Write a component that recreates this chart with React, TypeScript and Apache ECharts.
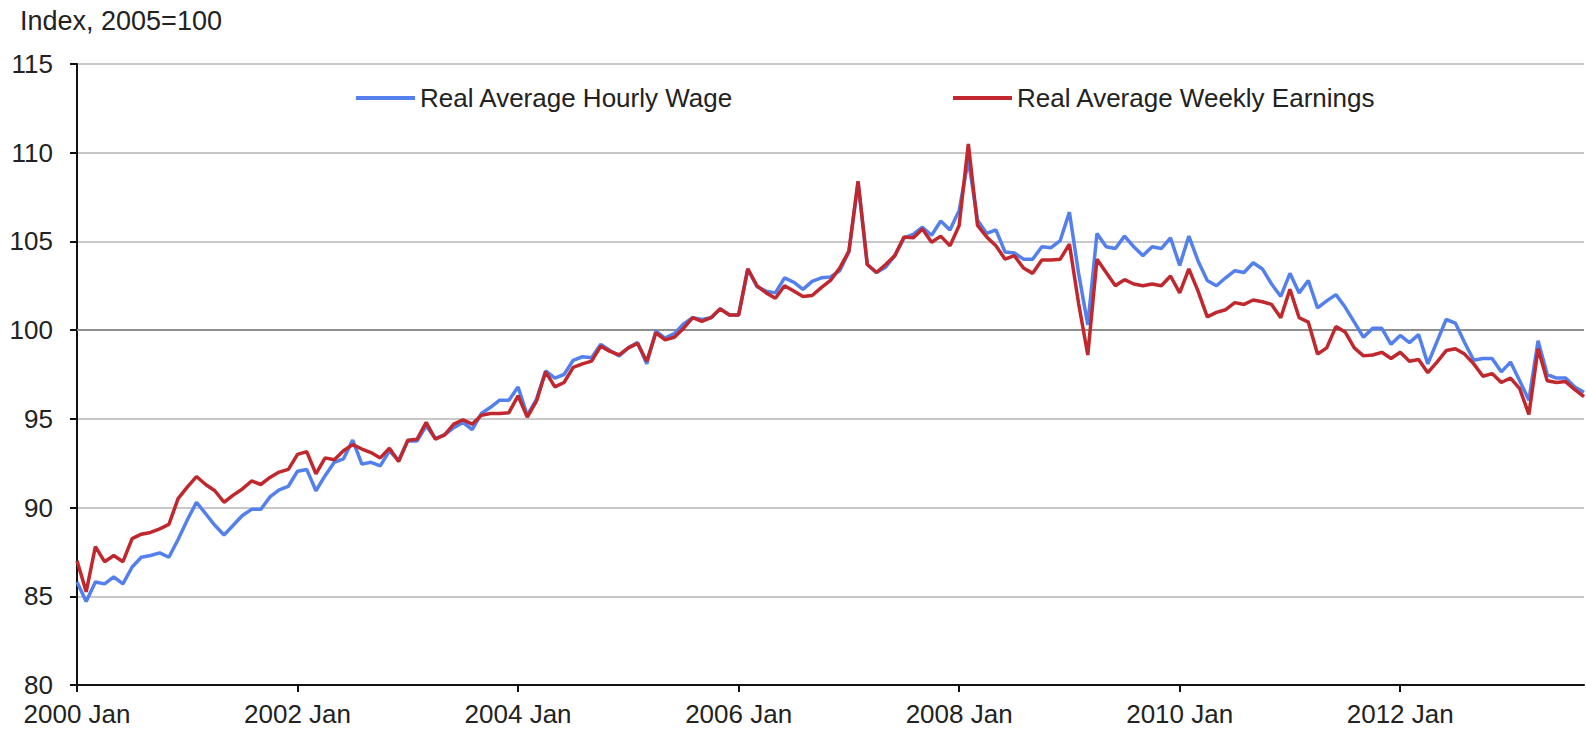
import React, { useEffect, useRef } from "react";
import * as echarts from "echarts";

const startYear = 2000;
const monthNames = ["Jan", "Feb", "Mar", "Apr", "May", "Jun", "Jul", "Aug", "Sep", "Oct", "Nov", "Dec"];

const hourlyWage: number[] = [
  85.8, 84.7, 85.8, 85.7, 86.1, 85.7, 86.65, 87.2, 87.3, 87.45, 87.2, 88.2,
  89.3, 90.3, 89.65, 89.0, 88.45, 89.0, 89.55, 89.9, 89.9, 90.6, 91.0, 91.2,
  92.05, 92.15, 90.95, 91.8, 92.55, 92.75, 93.8, 92.45, 92.55, 92.35, 93.2, 92.65,
  93.75, 93.75, 94.6, 93.9, 94.1, 94.5, 94.8, 94.4, 95.3, 95.65, 96.05, 96.05,
  96.8, 95.2, 96.1, 97.7, 97.3, 97.5, 98.3, 98.5, 98.45, 99.2, 98.85, 98.55,
  99.0, 99.3, 98.1, 99.95, 99.55, 99.8, 100.35, 100.7, 100.6, 100.7, 101.2, 100.85,
  100.85, 103.45, 102.45, 102.2, 102.1, 102.95, 102.7, 102.3, 102.75, 102.95, 103.0, 103.35,
  104.4, 108.35, 103.7, 103.25, 103.55, 104.2, 105.2, 105.4, 105.8, 105.35, 106.15, 105.65,
  106.75, 109.6, 106.2, 105.45, 105.65, 104.4, 104.35, 104.0, 104.0, 104.7, 104.65, 105.05,
  106.65, 103.2, 100.3, 105.45, 104.7, 104.6, 105.3, 104.7, 104.2, 104.7, 104.6, 105.2,
  103.65, 105.3, 103.9, 102.8, 102.5, 102.95, 103.35, 103.25, 103.8, 103.45, 102.6, 101.9,
  103.2, 102.1, 102.8, 101.25, 101.65, 102.0, 101.3, 100.45, 99.6, 100.1, 100.1, 99.2,
  99.7, 99.3, 99.75, 98.1, 99.35, 100.6, 100.4, 99.3, 98.3, 98.4, 98.4, 97.65,
  98.2, 97.15, 96.05, 99.4, 97.5, 97.3, 97.3, 96.8, 96.5,
];

const weeklyEarnings: number[] = [
  87.0, 85.25, 87.8, 86.95, 87.3, 86.95, 88.25, 88.5, 88.6, 88.8, 89.05, 90.5,
  91.15, 91.75, 91.3, 90.95, 90.3, 90.7, 91.05, 91.5, 91.3, 91.7, 92.0, 92.15,
  93.0, 93.15, 91.9, 92.8, 92.7, 93.2, 93.55, 93.3, 93.1, 92.8, 93.35, 92.6,
  93.8, 93.85, 94.8, 93.85, 94.1, 94.7, 94.95, 94.7, 95.2, 95.3, 95.3, 95.35,
  96.3, 95.1, 96.0, 97.65, 96.8, 97.05, 97.9, 98.1, 98.25, 99.1, 98.8, 98.6,
  99.0, 99.25, 98.25, 99.85, 99.45, 99.6, 100.1, 100.7, 100.5, 100.7, 101.2, 100.85,
  100.85, 103.45, 102.5, 102.1, 101.8, 102.5, 102.2, 101.9, 101.95, 102.4, 102.8, 103.5,
  104.45, 108.4, 103.7, 103.25, 103.7, 104.2, 105.25, 105.2, 105.7, 104.95, 105.3, 104.75,
  105.9, 110.5, 105.9, 105.25, 104.75, 104.0, 104.2, 103.5, 103.2, 103.95, 103.95, 104.0,
  104.85, 101.5, 98.6, 104.0, 103.25, 102.5, 102.85, 102.6, 102.5, 102.6, 102.5, 103.05,
  102.1, 103.45, 102.2, 100.75, 101.0, 101.15, 101.55, 101.45, 101.7, 101.6, 101.45, 100.7,
  102.3, 100.7, 100.45, 98.65, 99.0, 100.2, 99.9, 99.0, 98.55, 98.6, 98.75, 98.4,
  98.75, 98.25, 98.35, 97.6, 98.2, 98.85, 98.95, 98.65, 98.1, 97.4, 97.55, 97.05,
  97.3, 96.7, 95.25, 98.95, 97.15, 97.05, 97.1, 96.65, 96.25,
];

const categories: string[] = hourlyWage.map(
  (_, i) => `${startYear + Math.floor(i / 12)} ${monthNames[i % 12]}`
);

const seriesNames = ["Real Average Hourly Wage", "Real Average Weekly Earnings"];
const yTicks = { min: 80, max: 115, interval: 5 };
const baseline = 100;

const FONT = "'Liberation Sans', Arial, sans-serif";
const BLUE = "#5480ee";
const RED = "#c0282e";

export default function App() {
  const ref = useRef<HTMLDivElement>(null);
  useEffect(() => {
    document.body.style.margin = "0";
    if (!ref.current) return;
    const chart = echarts.init(ref.current, null, { renderer: "svg" });
    const legendText = { fontFamily: FONT, fontSize: 26, color: "#222" };
    chart.setOption({
      animation: false,
      backgroundColor: "#fff",
      title: {
        text: "Index, 2005=100",
        left: 20,
        top: 7,
        padding: 0,
        textStyle: { fontFamily: FONT, fontSize: 27, fontWeight: "normal", color: "#222" },
      },
      legend: [
        {
          data: [seriesNames[0]],
          left: 356,
          top: 85,
          padding: 0,
          itemWidth: 59,
          itemHeight: 4,
          itemGap: 0,
          icon: "rect",
          textStyle: legendText,
        },
        {
          data: [seriesNames[1]],
          left: 953,
          top: 85,
          padding: 0,
          itemWidth: 59,
          itemHeight: 4,
          itemGap: 0,
          icon: "rect",
          textStyle: legendText,
        },
      ],
      grid: { left: 77, right: 2, top: 64, bottom: 45, containLabel: false },
      xAxis: {
        type: "category",
        data: categories,
        boundaryGap: false,
        axisLine: { lineStyle: { color: "#111", width: 2 } },
        axisTick: {
          show: true,
          length: 7,
          interval: (idx: number) => idx % 24 === 0,
          lineStyle: { color: "#111", width: 2 },
        },
        axisLabel: {
          interval: (idx: number) => idx % 24 === 0,
          margin: 16,
          fontFamily: FONT,
          fontSize: 26,
          color: "#222",
        },
        splitLine: { show: false },
      },
      yAxis: {
        type: "value",
        min: yTicks.min,
        max: yTicks.max,
        interval: yTicks.interval,
        axisLine: { show: true, lineStyle: { color: "#111", width: 2 } },
        axisTick: { show: true, length: 7, lineStyle: { color: "#111", width: 2 } },
        axisLabel: { margin: 24, fontFamily: FONT, fontSize: 26, color: "#222" },
        splitLine: { show: true, lineStyle: { color: "#c8c8c8", width: 2 } },
      },
      series: [
        {
          name: seriesNames[0],
          type: "line",
          data: hourlyWage,
          showSymbol: false,
          symbol: "none",
          lineStyle: { color: BLUE, width: 3.5 },
          itemStyle: { color: BLUE },
          z: 3,
          markLine: {
            silent: true,
            symbol: "none",
            label: { show: false },
            lineStyle: { color: "#8f8f8f", width: 2, type: "solid" },
            data: [{ yAxis: baseline }],
            z: 1,
          },
        },
        {
          name: seriesNames[1],
          type: "line",
          data: weeklyEarnings,
          showSymbol: false,
          symbol: "none",
          lineStyle: { color: RED, width: 3.5 },
          itemStyle: { color: RED },
          z: 4,
        },
      ],
    });
    return () => chart.dispose();
  }, []);
  return <div ref={ref} style={{ width: 1586, height: 730 }} />;
}
